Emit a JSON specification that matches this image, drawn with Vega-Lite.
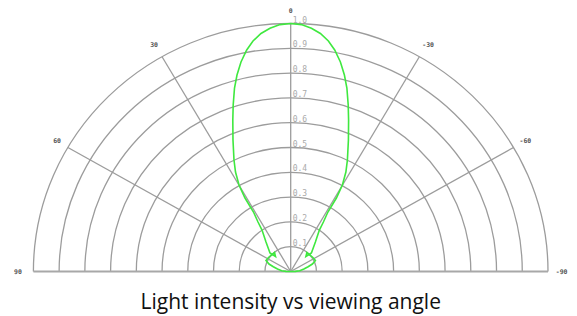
{
  "$schema": "https://vega.github.io/schema/vega-lite/v6.json",
  "width": 577,
  "height": 316,
  "autosize": "none",
  "padding": 0,
  "background": "#ffffff",
  "config": {"view": {"stroke": null}},
  "layer": [
    {
      "data": {"values": [{"cx": 0, "cy": 0, "r": 0.1}, {"cx": 0, "cy": 0, "r": 0.2}, {"cx": 0, "cy": 0, "r": 0.3}, {"cx": 0, "cy": 0, "r": 0.4}, {"cx": 0, "cy": 0, "r": 0.5}, {"cx": 0, "cy": 0, "r": 0.6}, {"cx": 0, "cy": 0, "r": 0.7}, {"cx": 0, "cy": 0, "r": 0.8}, {"cx": 0, "cy": 0, "r": 0.9}, {"cx": 0, "cy": 0, "r": 1.0}]},
      "mark": {"type": "point", "shape": "M-1,0A1,0.9639,0,0,1,1,0", "filled": false, "color": "#9c9c9c", "opacity": 1, "strokeWidth": 1.3},
      "encoding": {
        "x": {"field": "cx", "type": "quantitative", "scale": {"domain": [-1.1298, 1.1127], "nice": false, "zero": false}, "axis": null},
        "y": {"field": "cy", "type": "quantitative", "scale": {"domain": [-0.1794, 1.0948], "nice": false, "zero": false}, "axis": null},
        "size": {"field": "r", "type": "quantitative", "scale": {"type": "pow", "exponent": 2, "domain": [0, 1], "range": [0, 264813]}, "legend": null}
      }
    },
    {
      "data": {"values": [
        {"x": 0, "y": 0, "x2": -0.5, "y2": 0.866},
        {"x": 0, "y": 0, "x2": 0.5, "y2": 0.866},
        {"x": 0, "y": 0, "x2": -0.866, "y2": 0.5},
        {"x": 0, "y": 0, "x2": 0.866, "y2": 0.5},
        {"x": 0, "y": 0, "x2": 0, "y2": 1}
      ]},
      "mark": {"type": "rule", "color": "#9c9c9c", "strokeWidth": 1.3},
      "encoding": {
        "x": {"field": "x", "type": "quantitative"},
        "y": {"field": "y", "type": "quantitative"},
        "x2": {"field": "x2"},
        "y2": {"field": "y2"}
      }
    },
    {
      "data": {"values": [{"x": -1, "x2": 1, "y": 0}]},
      "mark": {"type": "rule", "color": "#a8a8a8", "strokeWidth": 2},
      "encoding": {
        "x": {"field": "x", "type": "quantitative"},
        "x2": {"field": "x2"},
        "y": {"field": "y", "type": "quantitative"}
      }
    },
    {
      "data": {"values": [
        {"i": 0, "x": 0, "y": 0},
        {"i": 1, "x": -0.0183, "y": 0.0004},
        {"i": 2, "x": -0.035, "y": 0.0032},
        {"i": 3, "x": -0.0513, "y": 0.0101},
        {"i": 4, "x": -0.0676, "y": 0.0194},
        {"i": 5, "x": -0.0843, "y": 0.0302},
        {"i": 6, "x": -0.096, "y": 0.0444},
        {"i": 7, "x": -0.0863, "y": 0.0565},
        {"i": 8, "x": -0.063, "y": 0.0766},
        {"i": 9, "x": -0.0591, "y": 0.0605},
        {"i": 10, "x": -0.0805, "y": 0.0746},
        {"i": 11, "x": -0.096, "y": 0.119},
        {"i": 12, "x": -0.1115, "y": 0.1673},
        {"i": 13, "x": -0.1271, "y": 0.1996},
        {"i": 14, "x": -0.1446, "y": 0.2399},
        {"i": 15, "x": -0.1776, "y": 0.2964},
        {"i": 16, "x": -0.2009, "y": 0.3488},
        {"i": 17, "x": -0.2145, "y": 0.4012},
        {"i": 18, "x": -0.2204, "y": 0.4496},
        {"i": 19, "x": -0.2243, "y": 0.5302},
        {"i": 20, "x": -0.225, "y": 0.6109},
        {"i": 21, "x": -0.2235, "y": 0.6714},
        {"i": 22, "x": -0.2184, "y": 0.7399},
        {"i": 23, "x": -0.2087, "y": 0.7923},
        {"i": 24, "x": -0.1932, "y": 0.8448},
        {"i": 25, "x": -0.171, "y": 0.8931},
        {"i": 26, "x": -0.1465, "y": 0.9294},
        {"i": 27, "x": -0.1154, "y": 0.9597},
        {"i": 28, "x": -0.0805, "y": 0.9806},
        {"i": 29, "x": -0.0416, "y": 0.9956},
        {"i": 30, "x": 0, "y": 1.0},
        {"i": 31, "x": 0.0416, "y": 0.9956},
        {"i": 32, "x": 0.0805, "y": 0.9806},
        {"i": 33, "x": 0.1154, "y": 0.9597},
        {"i": 34, "x": 0.1465, "y": 0.9294},
        {"i": 35, "x": 0.171, "y": 0.8931},
        {"i": 36, "x": 0.1932, "y": 0.8448},
        {"i": 37, "x": 0.2087, "y": 0.7923},
        {"i": 38, "x": 0.2184, "y": 0.7399},
        {"i": 39, "x": 0.2235, "y": 0.6714},
        {"i": 40, "x": 0.225, "y": 0.6109},
        {"i": 41, "x": 0.2243, "y": 0.5302},
        {"i": 42, "x": 0.2204, "y": 0.4496},
        {"i": 43, "x": 0.2145, "y": 0.4012},
        {"i": 44, "x": 0.2009, "y": 0.3488},
        {"i": 45, "x": 0.1776, "y": 0.2964},
        {"i": 46, "x": 0.1446, "y": 0.2399},
        {"i": 47, "x": 0.1271, "y": 0.1996},
        {"i": 48, "x": 0.1115, "y": 0.1673},
        {"i": 49, "x": 0.096, "y": 0.119},
        {"i": 50, "x": 0.0805, "y": 0.0746},
        {"i": 51, "x": 0.0591, "y": 0.0605},
        {"i": 52, "x": 0.063, "y": 0.0766},
        {"i": 53, "x": 0.0863, "y": 0.0565},
        {"i": 54, "x": 0.096, "y": 0.0444},
        {"i": 55, "x": 0.0843, "y": 0.0302},
        {"i": 56, "x": 0.0676, "y": 0.0194},
        {"i": 57, "x": 0.0513, "y": 0.0101},
        {"i": 58, "x": 0.035, "y": 0.0032},
        {"i": 59, "x": 0.0183, "y": 0.0004},
        {"i": 60, "x": 0, "y": 0}
      ]},
      "mark": {"type": "line", "color": "#3fe83f", "strokeWidth": 1.6},
      "encoding": {
        "x": {"field": "x", "type": "quantitative"},
        "y": {"field": "y", "type": "quantitative"},
        "order": {"field": "i", "type": "quantitative"}
      }
    },
    {
      "data": {"values": [
        {"label": "0", "x": 0, "y": 1.052},
        {"label": "30", "x": -0.531, "y": 0.913},
        {"label": "-30", "x": 0.534, "y": 0.913},
        {"label": "60", "x": -0.908, "y": 0.526},
        {"label": "-60", "x": 0.912, "y": 0.526},
        {"label": "90", "x": -1.06, "y": 0},
        {"label": "-90", "x": 1.053, "y": 0}
      ]},
      "mark": {"type": "text", "font": "DejaVu Sans Mono", "fontSize": 6.5, "fontWeight": "bold", "color": "#555555", "align": "center", "baseline": "middle"},
      "encoding": {
        "x": {"field": "x", "type": "quantitative"},
        "y": {"field": "y", "type": "quantitative"},
        "text": {"field": "label"}
      }
    },
    {
      "data": {"values": [
        {"label": "0.1", "x": 0, "r": 0.1},
        {"label": "0.2", "x": 0, "r": 0.2},
        {"label": "0.3", "x": 0, "r": 0.3},
        {"label": "0.4", "x": 0, "r": 0.4},
        {"label": "0.5", "x": 0, "r": 0.5},
        {"label": "0.6", "x": 0, "r": 0.6},
        {"label": "0.7", "x": 0, "r": 0.7},
        {"label": "0.8", "x": 0, "r": 0.8},
        {"label": "0.9", "x": 0, "r": 0.9},
        {"label": "1.0", "x": 0, "r": 1.0}
      ]},
      "mark": {"type": "text", "font": "DejaVu Sans Mono", "fontSize": 8, "color": "#aaaaaa", "align": "left", "baseline": "alphabetic", "dx": 2, "dy": -1},
      "encoding": {
        "x": {"field": "x", "type": "quantitative"},
        "y": {"field": "r", "type": "quantitative"},
        "text": {"field": "label"}
      }
    },
    {
      "data": {"values": [{"label": "Light intensity vs viewing angle", "x": 0, "y": -0.15}]},
      "mark": {"type": "text", "font": "Open Sans", "fontSize": 21, "color": "#111111", "align": "center", "baseline": "alphabetic"},
      "encoding": {
        "x": {"field": "x", "type": "quantitative"},
        "y": {"field": "y", "type": "quantitative"},
        "text": {"field": "label"}
      }
    }
  ]
}
